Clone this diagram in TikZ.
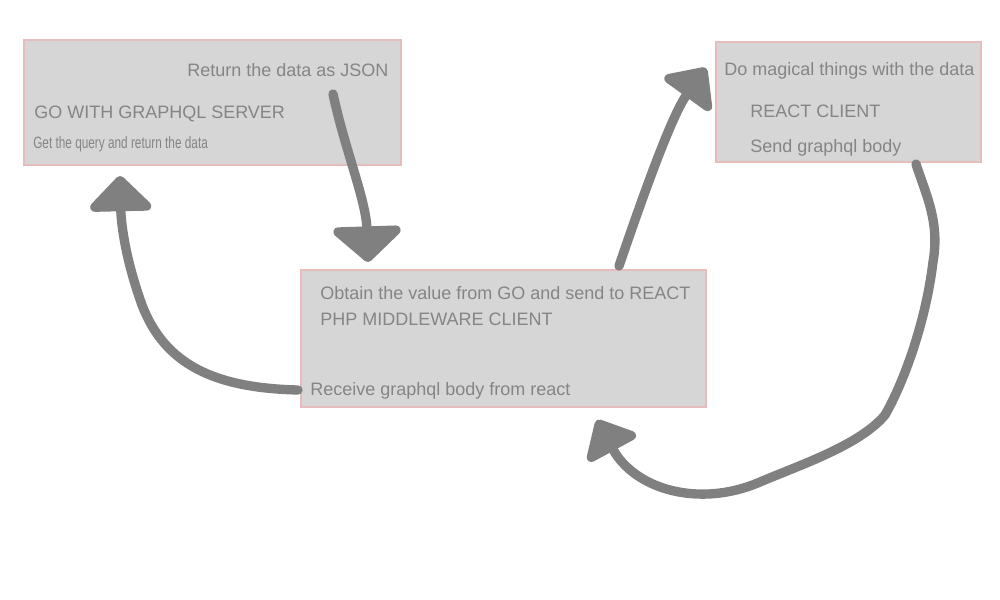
\documentclass[tikz,border=0pt]{standalone}
\usepackage{fontspec}
\setmainfont{Liberation Sans}
\newfontfamily\narrowfont[FakeStretch=0.72]{Liberation Sans}
\usetikzlibrary{arrows.meta}
\definecolor{boxfill}{HTML}{D6D6D6}
\definecolor{boxline}{HTML}{E6BCBC}
\definecolor{txt}{HTML}{858585}
\definecolor{arr}{HTML}{808080}
\tikzset{
  box/.style={draw=boxline, line width=0.8pt, fill=boxfill, inner sep=0pt},
  lbl/.style={anchor=west, text=txt, inner sep=0pt, font=\fontsize{13.5pt}{16pt}\selectfont},
  small/.style={anchor=west, text=txt, inner sep=0pt, font=\narrowfont\fontsize{12.3pt}{14pt}\selectfont},
  fat/.style={draw=arr, line width=7pt, line cap=round, line join=round,
    -{Triangle[width=#1,length=28pt,round]}},
  fat/.default=55pt,
}
\begin{document}
\begin{tikzpicture}[x=0.75pt,y=-0.75pt]
\useasboundingbox (0,0) rectangle (1000,600);
% boxes
\node[box, minimum width=282.75pt, minimum height=93.75pt] (go) at (212.5,102.5) {};
\node[box, minimum width=198.75pt, minimum height=90pt] (react) at (848.5,102) {};
\node[box, minimum width=303.75pt, minimum height=102.75pt] (php) at (503.5,338.5) {};
% texts
\node[lbl] (t1) at (187,70) {Return the data as JSON};
\node[lbl] (t2) at (34,114) {GO WITH GRAPHQL SERVER};
\node[small] (t3) at (33,144) {Get the query and return the data};
\node[lbl] (t4) at (724,71) {Do magical things with the data};
\node[lbl] (t5) at (750,111) {REACT CLIENT};
\node[lbl] (t6) at (750,148) {Send graphql body};
\node[lbl] (t7) at (320,293) {Obtain the value from GO and send to REACT};
\node[lbl] (t8) at (320,319) {PHP MIDDLEWARE CLIENT};
\node[lbl] (t9) at (310,391) {Receive graphql body from react};
% arrow end points
\coordinate (a1s) at (333,94);
\coordinate (a1e) at (368,262);
\coordinate (a2s) at (298,390);
\coordinate (a2m) at (142,305);
\coordinate (a2e) at (120,176);
\coordinate (a3s) at (619,266);
\coordinate (a3e) at (706,68);
\coordinate (a4s) at (916,164);
\coordinate (a4a) at (933,262);
\coordinate (a4b) at (885,415);
\coordinate (a4c) at (760,482);
\coordinate (a4e) at (597,420);
% arrows
\draw[fat=60pt] (a1s) .. controls (345,150) and (366,200) .. (a1e);
\draw[fat=54pt] (a2s) .. controls (215,388) and (165,365) .. (a2m)
  .. controls (124,255) and (121,220) .. (a2e);
\draw[fat=50pt] (a3s) .. controls (645,190) and (672,115) .. (a3e);
\draw[fat=48pt] (a4s) .. controls (926,195) and (940,222) .. (a4a)
  .. controls (926,320) and (905,380) .. (a4b)
  .. controls (860,445) and (800,465) .. (a4c)
  .. controls (700,508) and (635,490) .. (a4e);
\end{tikzpicture}
\end{document}
